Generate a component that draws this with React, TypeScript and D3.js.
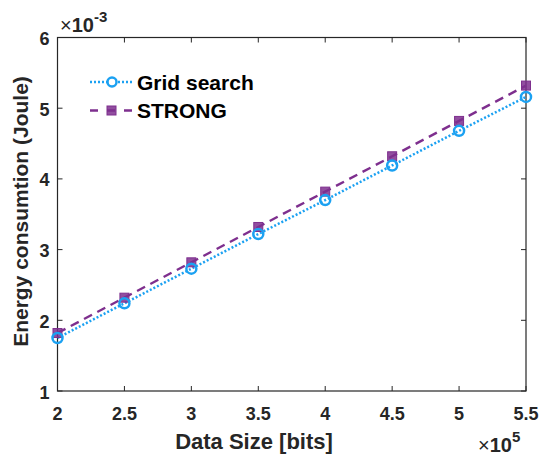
import React from 'react';
import * as d3 from 'd3';

const WIDTH = 545;
const HEIGHT = 454;
const MARGIN = { top: 37.5, right: 19, bottom: 63, left: 57.5 };

const dataSize = [2, 2.5, 3, 3.5, 4, 4.5, 5, 5.5];
const gridSearch = [1.75, 2.24, 2.73, 3.22, 3.7, 4.19, 4.68, 5.16];
const strong = [1.82, 2.32, 2.82, 3.32, 3.82, 4.32, 4.82, 5.32];
const xTicks = [2, 2.5, 3, 3.5, 4, 4.5, 5, 5.5];
const yTicks = [1, 2, 3, 4, 5, 6];

const BLUE = '#1ba1f2';
const PURPLE = '#7e2f8e';
const INK = '#262626';
const FONT = 'Liberation Sans, Arial, sans-serif';

const App = () => {
  const boundsWidth = WIDTH - MARGIN.left - MARGIN.right;
  const boundsHeight = HEIGHT - MARGIN.top - MARGIN.bottom;

  const xScale = d3.scaleLinear().domain([2, 5.5]).range([0, boundsWidth]);
  const yScale = d3.scaleLinear().domain([1, 6]).range([boundsHeight, 0]);

  const line = d3
    .line<number>()
    .x((_, i) => xScale(dataSize[i]))
    .y((d) => yScale(d));

  const xAxis = xTicks.map((t, i) => (
    <g key={i}>
      <line x1={xScale(t)} x2={xScale(t)} y1={boundsHeight} y2={boundsHeight - 5} stroke={INK} />
      <line x1={xScale(t)} x2={xScale(t)} y1={0} y2={5} stroke={INK} />
      <text x={xScale(t)} y={boundsHeight + 28.5} textAnchor="middle" fontSize={18} fontWeight="bold" fill={INK}>
        {t}
      </text>
    </g>
  ));

  const yAxis = yTicks.map((t, i) => (
    <g key={i}>
      <line x1={0} x2={5} y1={yScale(t)} y2={yScale(t)} stroke={INK} />
      <line x1={boundsWidth} x2={boundsWidth - 5} y1={yScale(t)} y2={yScale(t)} stroke={INK} />
      <text x={-8} y={yScale(t) + 7.5} textAnchor="end" fontSize={18} fontWeight="bold" fill={INK}>
        {t}
      </text>
    </g>
  ));

  return (
    <svg width={WIDTH} height={HEIGHT} style={{ position: 'absolute', left: 0, top: 0 }} fontFamily={FONT}>
      <rect width={WIDTH} height={HEIGHT} fill="white" />
      <g transform={`translate(${MARGIN.left},${MARGIN.top})`}>
        <rect width={boundsWidth} height={boundsHeight} fill="none" stroke={INK} strokeWidth={1.2} />
        {xAxis}
        {yAxis}

        <path d={line(strong) || ''} fill="none" stroke={PURPLE} strokeWidth={2.4} strokeDasharray="9,6" />
        <path d={line(gridSearch) || ''} fill="none" stroke={BLUE} strokeWidth={2.5} strokeDasharray="2,2" />

        {strong.map((v, i) => (
          <rect
            key={i}
            x={xScale(dataSize[i]) - 4.5}
            y={yScale(v) - 4.5}
            width={9}
            height={9}
            fill={PURPLE}
            fillOpacity={0.85}
            stroke={PURPLE}
            strokeWidth={1}
          />
        ))}
        {gridSearch.map((v, i) => (
          <circle key={i} cx={xScale(dataSize[i])} cy={yScale(v)} r={5} fill="none" stroke={BLUE} strokeWidth={2.5} />
        ))}
      </g>

      {/* legend */}
      <g transform="translate(90,82)">
        <line x1={0} x2={42} y1={0} y2={0} stroke={BLUE} strokeWidth={2.5} strokeDasharray="2,2" />
        <circle cx={22} cy={0} r={4.5} fill="white" stroke={BLUE} strokeWidth={2.5} />
        <text x={47} y={8} fontSize={21} fontWeight="bold" fill="#000">
          Grid search
        </text>
      </g>
      <g transform="translate(90,110.5)">
        <line x1={0} x2={43} y1={0} y2={0} stroke={PURPLE} strokeWidth={2.4} strokeDasharray="8,9" />
        <rect x={17} y={-4.5} width={9} height={9} fill={PURPLE} fillOpacity={0.85} stroke={PURPLE} />
        <text x={47} y={7.5} fontSize={21} fontWeight="bold" fill="#000">
          STRONG
        </text>
      </g>

      {/* exponent labels */}
      <text x={60} y={31.5} fontSize={20} fill={INK}>
        <tspan>×</tspan>
        <tspan fontWeight="bold">10</tspan>
        <tspan dy={-10} fontSize={15} fontWeight="bold">-3</tspan>
      </text>
      <text x={478} y={451.5} fontSize={20} fill={INK}>
        <tspan>×</tspan>
        <tspan fontWeight="bold">10</tspan>
        <tspan dy={-10} fontSize={15} fontWeight="bold">5</tspan>
      </text>

      {/* axis titles */}
      <text x={254} y={449} textAnchor="middle" fontSize={22} fontWeight="bold" fill={INK}>
        Data Size [bits]
      </text>
      <text
        transform={`translate(28,211.5) rotate(-90)`}
        textAnchor="middle"
        fontSize={21}
        fontWeight="bold"
        fill={INK}
      >
        Energy consumtion (Joule)
      </text>
    </svg>
  );
};

export default App;
